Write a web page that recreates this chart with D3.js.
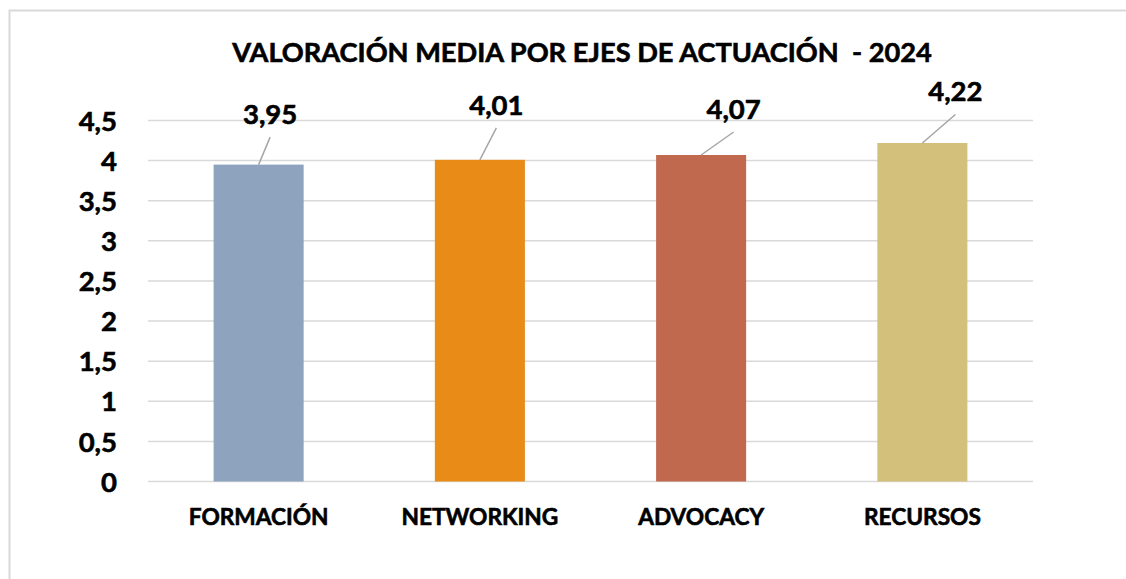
<!DOCTYPE html>
<html><head><meta charset="utf-8">
<script src="https://cdn.jsdelivr.net/npm/d3@7"></script>
<style>html,body{margin:0;padding:0;background:#fff;overflow:hidden}</style>
</head><body>
<svg id="c" width="1126" height="579"></svg>
<script>
const title = "VALORACIÓN MEDIA POR EJES DE ACTUACIÓN  - 2024";
const categories = ["FORMACIÓN", "NETWORKING", "ADVOCACY", "RECURSOS"];
const values = [3.95, 4.01, 4.07, 4.22];
const valueLabels = ["3,95", "4,01", "4,07", "4,22"];
const colors = ["#8DA3BE", "#E98B17", "#C0694E", "#D3C07A"];
const yTicks = [0, 0.5, 1, 1.5, 2, 2.5, 3, 3.5, 4, 4.5];
// manual label offsets (dx from bar center, dy of baseline from bar top)
const labelDx = [11.5, 16.5, 32.5, 33];
const labelDy = [-40.5, -45, -36, -41.5];

const svg = d3.select("#c");
const font = "Lato, 'Open Sans', sans-serif";
const fmt = d => String(d).replace(".", ",");
const heavy = sel => sel.attr("stroke", "#000").attr("stroke-width", 0.6).attr("paint-order", "stroke");

svg.append("rect").attr("x", 9.5).attr("y", 10.5).attr("width", 1300).attr("height", 700)
  .attr("fill", "#fff").attr("stroke", "#d9d9d9").attr("stroke-width", 2);

const x = d3.scaleBand().domain(categories).range([148, 1033]).padding(0);
const y = d3.scaleLinear().domain([0, 4.5]).range([481.5, 120.5]);
const barW = x.bandwidth() * 0.407;

// gridlines
svg.append("g").selectAll("line").data(yTicks).join("line")
  .attr("x1", 148).attr("x2", 1033)
  .attr("y1", d => y(d)).attr("y2", d => y(d))
  .attr("stroke", "#d9d9d9").attr("stroke-width", 1.5);

// y axis labels
const yAxis = d3.axisLeft(y).tickValues(yTicks).tickFormat(fmt).tickSize(0).tickPadding(0);
const ga = svg.append("g").attr("transform", "translate(117,0)").call(yAxis);
ga.select(".domain").remove();
ga.selectAll("text").attr("font-family", font).attr("font-weight", 700)
  .attr("font-size", 27.5).attr("fill", "#000").attr("dy", "0.35em").call(heavy);

// bars
svg.append("g").selectAll("rect").data(values).join("rect")
  .attr("x", (d, i) => x(categories[i]) + x.bandwidth() / 2 - barW / 2)
  .attr("width", barW)
  .attr("y", d => y(d))
  .attr("height", d => y(0) - y(d))
  .attr("fill", (d, i) => colors[i]);

// category labels
const xAxis = d3.axisBottom(x).tickSize(0).tickPadding(0);
const gx = svg.append("g").attr("transform", "translate(0,525)").call(xAxis);
gx.select(".domain").remove();
gx.selectAll("text").attr("font-family", font).attr("font-weight", 700)
  .attr("font-size", 22.7).attr("fill", "#000").attr("dy", 0).call(heavy);

// leader lines and data labels
const lg = svg.append("g");
values.forEach((v, i) => {
  const cx = x(categories[i]) + x.bandwidth() / 2;
  const top = y(v);
  const lx = cx + labelDx[i];
  const ly = top + labelDy[i];
  lg.append("line").attr("x1", cx).attr("y1", top).attr("x2", lx).attr("y2", ly + 13)
    .attr("stroke", "#a6a6a6").attr("stroke-width", 1.5);
  lg.append("text").attr("x", lx).attr("y", ly).attr("text-anchor", "middle")
    .attr("font-family", font).attr("font-weight", 700).attr("font-size", 27.5)
    .attr("fill", "#000").text(valueLabels[i]).call(heavy);
});

// title
svg.append("text").attr("x", 582).attr("y", 62).attr("text-anchor", "middle")
  .attr("font-family", font).attr("font-weight", 700).attr("font-size", 27.2)
  .attr("fill", "#000").attr("xml:space", "preserve").style("white-space", "pre").text(title).call(heavy);
</script>
</body></html>
